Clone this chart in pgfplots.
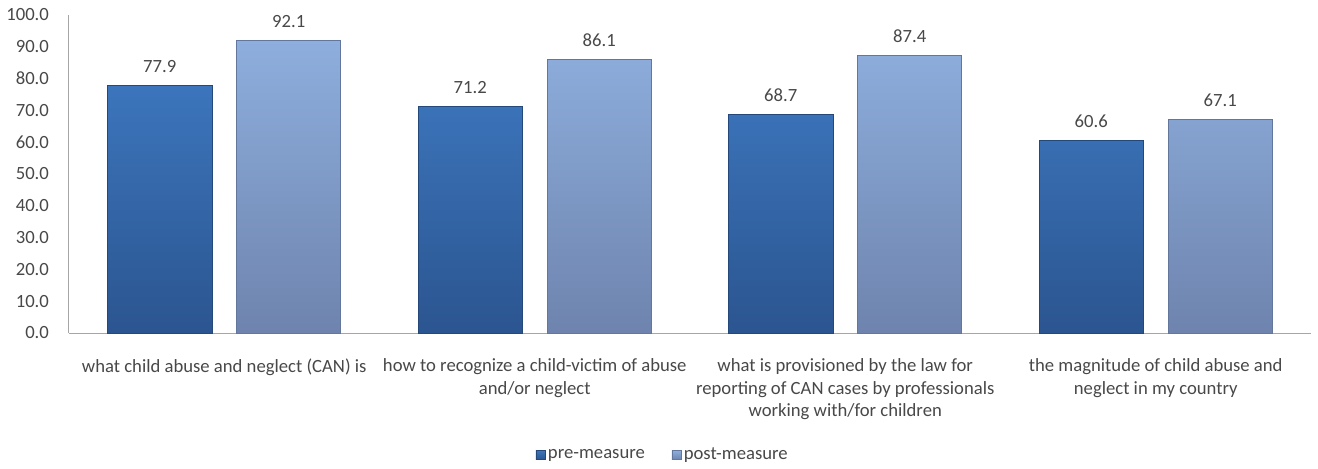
\documentclass[border=0pt]{standalone}
\usepackage{fontspec}
\setmainfont{Carlito}
\usepackage{pgfplots}
\pgfplotsset{compat=1.18}
\definecolor{txt}{HTML}{484848}
\definecolor{preT}{HTML}{3C75BC}
\definecolor{preB}{HTML}{2B5590}
\definecolor{postT}{HTML}{8EAEDD}
\definecolor{postB}{HTML}{6E84AE}
\definecolor{axisgray}{HTML}{A6A6A6}
\newcommand{\cfont}{\fontsize{14}{16.9}\selectfont}
\begin{document}
\begin{tikzpicture}
\begin{axis}[
  scale only axis, width=931.5pt, height=238.5pt,
  xmin=-0.5, xmax=3.5, ymin=0, ymax=100,
  ybar, bar width=0.335,
  axis x line=bottom, axis y line=left,
  axis line style={-, draw=axisgray, line width=0.75pt},
  /pgf/number format/assume math mode=true,
  ytick={0,10,...,100},
  ytick style={draw=none}, xtick style={draw=none},
  yticklabel style={anchor=east, inner sep=0pt, xshift=-12.75pt, font=\cfont, text=txt,
    /pgf/number format/fixed, /pgf/number format/fixed zerofill, /pgf/number format/precision=1},
  xtick={0,1,2,3},
  xticklabels={{what child abuse and neglect (CAN) is},
    {how to recognize a child-victim of abuse\\and/or neglect},
    {what is provisioned by the law for\\reporting of CAN cases by professionals\\working with/for children},
    {the magnitude of child abuse and\\neglect in my country}},
  xticklabel style={anchor=north, inner sep=0pt, yshift=-17pt, align=center, font=\cfont, text=txt},
  nodes near coords,
  nodes near coords style={anchor=south, inner sep=0pt, yshift=9.2pt, font=\cfont, text=txt,
    /pgf/number format/fixed, /pgf/number format/fixed zerofill, /pgf/number format/precision=1},
  legend style={at={(0.4783,-0.3836)}, anchor=center, draw=none, fill=none, font=\cfont, text=txt,
    legend columns=2, /tikz/every even column/.append style={column sep=18pt}},
  legend image code/.code={\draw[#1, line width=0.4pt] (0pt,-3.4pt) rectangle (6.8pt,3.4pt);},
]
\addplot[bar shift=-0.2077, draw=preB!85!black, line width=0.4pt,
  top color=preT, bottom color=preB]
  coordinates {(0,77.9) (1,71.2) (2,68.7) (3,60.6)};
\addlegendentry{pre-measure}
\addplot[bar shift=0.2077, draw=postB!90!black, line width=0.4pt,
  top color=postT, bottom color=postB]
  coordinates {(0,92.1) (1,86.1) (2,87.4) (3,67.1)};
\addlegendentry{post-measure}
\coordinate (O) at (rel axis cs:0,0);
\end{axis}
\pgfresetboundingbox
\path (O) ++(-51.75pt,-101.25pt) rectangle ++(988.5pt,351pt);
\end{tikzpicture}
\end{document}
